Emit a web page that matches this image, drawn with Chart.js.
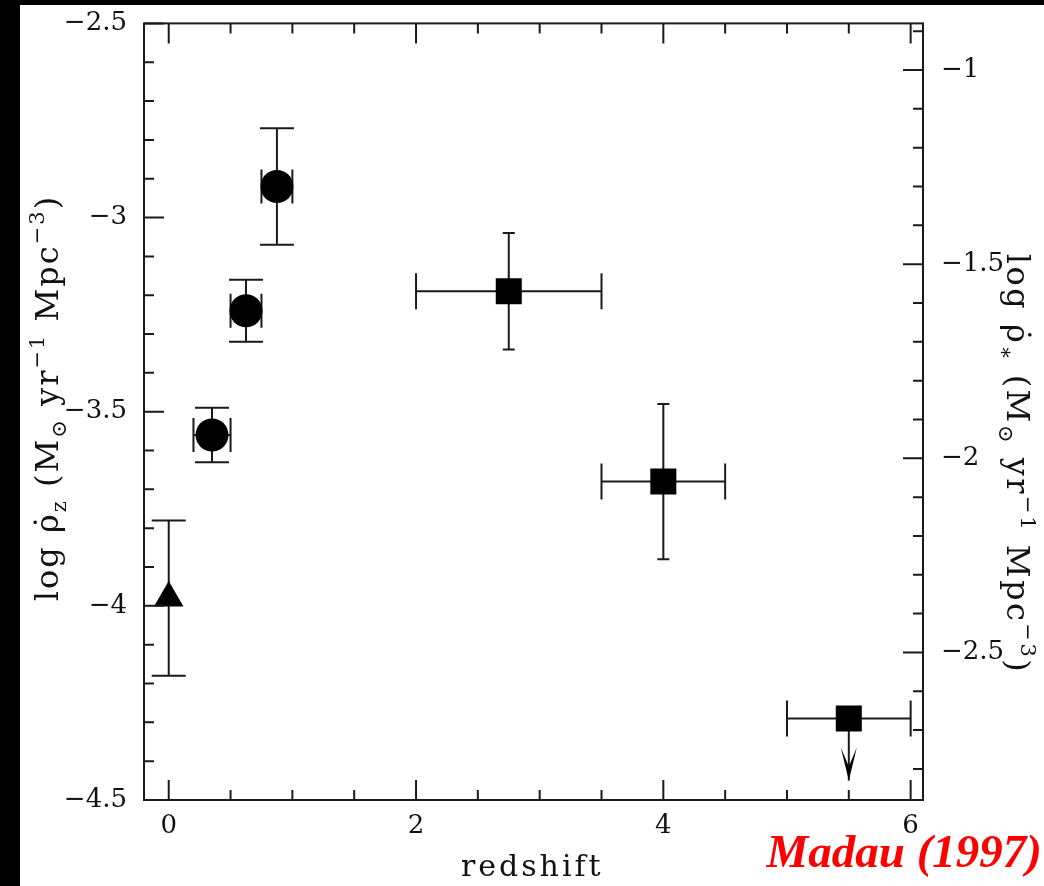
<!DOCTYPE html>
<html>
<head>
<meta charset="utf-8">
<script src="https://cdn.jsdelivr.net/npm/chart.js@4.4.1/dist/chart.umd.min.js"></script>
<style>
html, body { margin: 0; padding: 0; background: #000; width: 1044px; height: 886px; overflow: hidden; }
#wrap { position: absolute; left: 20px; top: 5px; width: 1024px; height: 881px; background: #fff; }
</style>
</head>
<body>
<div id="wrap"><canvas id="myChart"></canvas></div>
<script>
// cosmic star formation history, after Madau (1997)
var xTicks = [0, 2, 4, 6];
var leftTicks = [-4.5, -4, -3.5, -3, -2.5];
var rightTicks = [-2.5, -2, -1.5, -1];
var rightOffset = 1.62; // log rho* = log rho_z + 1.62

// local (triangle)
var localZ = [0];
var localRho = [-3.98];
var localErr = [0.2];

// CFRS (circles)
var cfrsZ = [0.35, 0.625, 0.875];
var cfrsRho = [-3.56, -3.24, -2.92];
var cfrsZErr = [0.15, 0.125, 0.125];
var cfrsErr = [0.07, 0.08, 0.15];

// HDF (squares), last one is an upper limit
var hdfZ = [2.75, 4.0, 5.5];
var hdfRho = [-3.19, -3.68, -4.29];
var hdfZErr = [0.75, 0.5, 0.5];
var hdfErr = [0.15, 0.2, 0];
var hdfLimit = [false, false, true];

var ink = '#1a1a1a';
var tickFont = { family: 'DejaVu Serif', size: 26 };

function pts(zs, rs, zerr, rerr, lim) {
  return zs.map(function (z, i) {
    return { x: z, y: rs[i], xe: zerr ? zerr[i] : 0, ye: rerr ? rerr[i] : 0, lim: lim ? lim[i] : false };
  });
}

function fmt(v) {
  return v < 0 ? '\u2212' + Math.abs(v) : String(v);
}

var errorBars = {
  id: 'errorBars',
  beforeDatasetsDraw: function (chart) {
    var ctx = chart.ctx;
    var xs = chart.scales.x, ys = chart.scales.y;
    ctx.save();
    ctx.strokeStyle = ink;
    ctx.fillStyle = '#000';
    ctx.lineWidth = 2;
    chart.data.datasets.forEach(function (ds) {
      ds.data.forEach(function (p) {
        var px = xs.getPixelForValue(p.x), py = ys.getPixelForValue(p.y);
        ctx.beginPath();
        if (p.xe) {
          var l = xs.getPixelForValue(p.x - p.xe), r = xs.getPixelForValue(p.x + p.xe);
          ctx.moveTo(l, py); ctx.lineTo(r, py);
          ctx.moveTo(l, py - ds.capX); ctx.lineTo(l, py + ds.capX);
          ctx.moveTo(r, py - ds.capX); ctx.lineTo(r, py + ds.capX);
        }
        if (p.ye) {
          var t = ys.getPixelForValue(p.y + p.ye), b = ys.getPixelForValue(p.y - p.ye);
          ctx.moveTo(px, t); ctx.lineTo(px, b);
          ctx.moveTo(px - ds.capY, t); ctx.lineTo(px + ds.capY, t);
          ctx.moveTo(px - ds.capY, b); ctx.lineTo(px + ds.capY, b);
        }
        ctx.stroke();
        if (p.lim) {
          var tip = ys.getPixelForValue(p.y - 0.16);
          ctx.beginPath();
          ctx.moveTo(px, py); ctx.lineTo(px, tip);
          ctx.stroke();
          ctx.beginPath();
          ctx.moveTo(px, tip);
          ctx.lineTo(px - 8, tip - 33);
          ctx.lineTo(px, tip - 14);
          ctx.lineTo(px + 8, tip - 33);
          ctx.closePath();
          ctx.fill();
        }
      });
    });
    ctx.restore();
  }
};

var frameTicks = {
  id: 'frameTicks',
  afterDatasetsDraw: function (chart) {
    var ctx = chart.ctx, a = chart.chartArea;
    var xs = chart.scales.x, ys = chart.scales.y, y2 = chart.scales.y2;
    ctx.save();
    ctx.strokeStyle = ink;
    ctx.lineWidth = 2;
    ctx.strokeRect(a.left, a.top, a.right - a.left, a.bottom - a.top);
    ctx.beginPath();
    function minors(scale, step) {
      var out = [];
      for (var v = Math.ceil(scale.min / step - 1e-6) * step; v <= scale.max + 1e-6; v += step) out.push(v);
      return out;
    }
    function isMajor(v, list) {
      return list.some(function (m) { return Math.abs(m - v) < 1e-6; });
    }
    minors(xs, 0.5).forEach(function (v) {
      var len = isMajor(v, xTicks) ? 20 : 10;
      var p = xs.getPixelForValue(v);
      ctx.moveTo(p, a.bottom); ctx.lineTo(p, a.bottom - len);
      ctx.moveTo(p, a.top); ctx.lineTo(p, a.top + len);
    });
    minors(ys, 0.1).forEach(function (v) {
      var len = isMajor(v, leftTicks) ? 20 : 10;
      var p = ys.getPixelForValue(v);
      ctx.moveTo(a.left, p); ctx.lineTo(a.left + len, p);
    });
    minors(y2, 0.1).forEach(function (v) {
      var len = isMajor(v, rightTicks) ? 20 : 10;
      var p = y2.getPixelForValue(v);
      ctx.moveTo(a.right, p); ctx.lineTo(a.right - len, p);
    });
    ctx.stroke();
    ctx.restore();
  }
};

function drawRich(ctx, parts, cx, cy, angle, size, spacing) {
  var fam = 'px "DejaVu Serif"';
  ctx.save();
  ctx.letterSpacing = spacing + 'px';
  var widths = parts.map(function (p) {
    ctx.font = (p.s ? Math.round(size * 0.66) : size) + fam;
    return ctx.measureText(p.t).width;
  });
  var total = widths.reduce(function (s, w) { return s + w; }, 0);
  ctx.translate(cx, cy);
  ctx.rotate(angle);
  ctx.fillStyle = '#111';
  ctx.textBaseline = 'alphabetic';
  var x = -total / 2, base = size * 0.36;
  parts.forEach(function (p, i) {
    ctx.font = (p.s ? Math.round(size * 0.66) : size) + fam;
    var dy = p.s === 'sub' ? size * 0.28 : (p.s === 'sup' ? -size * 0.42 : 0);
    ctx.fillText(p.t, x, base + dy);
    x += widths[i];
  });
  ctx.restore();
}

var leftTitle = [
  { t: 'log ' }, { t: '\u03c1\u0307' }, { t: 'z', s: 'sub' }, { t: ' (M' }, { t: '\u2299', s: 'sub' },
  { t: ' yr' }, { t: '\u22121', s: 'sup' }, { t: ' Mpc' }, { t: '\u22123', s: 'sup' }, { t: ')' }
];
var rightTitle = [
  { t: 'log ' }, { t: '\u03c1\u0307' }, { t: '\u2217', s: 'sub' }, { t: ' (M' }, { t: '\u2299', s: 'sub' },
  { t: ' yr' }, { t: '\u22121', s: 'sup' }, { t: ' Mpc' }, { t: '\u22123', s: 'sup' }, { t: ')' }
];

var titles = {
  id: 'titles',
  afterDraw: function (chart) {
    var ctx = chart.ctx;
    drawRich(ctx, leftTitle, 26, 393, -Math.PI / 2, 32, 2);
    drawRich(ctx, rightTitle, 999, 459, Math.PI / 2, 32, 2.5);
    ctx.save();
    ctx.fillStyle = '#111';
    ctx.font = '30px "DejaVu Serif"';
    ctx.textAlign = 'center';
    ctx.textBaseline = 'alphabetic';
    ctx.letterSpacing = '3px';
    ctx.fillText('redshift', chart.scales.x.getPixelForValue(2.94), 871);
    ctx.letterSpacing = '0px';
    ctx.fillStyle = '#ff0000';
    ctx.font = 'italic bold 47px "Liberation Serif"';
    ctx.textAlign = 'right';
    ctx.fillText('Madau (1997)', 1022, 862);
    ctx.restore();
  }
};

function noPad(s) {
  s.paddingTop = 0; s.paddingBottom = 0; s.paddingLeft = 0; s.paddingRight = 0;
}

var ctx = document.getElementById('myChart').getContext('2d');
var myChart = new Chart(ctx, {
  type: 'scatter',
  data: {
    datasets: [
      { label: 'local', data: pts(localZ, localRho, null, localErr), pointStyle: 'triangle', pointRadius: 17,
        backgroundColor: '#000', borderColor: '#000', borderWidth: 0, capX: 0, capY: 17 },
      { label: 'CFRS', data: pts(cfrsZ, cfrsRho, cfrsZErr, cfrsErr), pointStyle: 'circle', pointRadius: 16.5,
        backgroundColor: '#000', borderColor: '#000', borderWidth: 0, capX: 17, capY: 17 },
      { label: 'HDF', data: pts(hdfZ, hdfRho, hdfZErr, hdfErr, hdfLimit), pointStyle: 'rect', pointRadius: 18.4,
        backgroundColor: '#000', borderColor: '#000', borderWidth: 0, capX: 18, capY: 6 }
    ]
  },
  options: {
    responsive: true,
    maintainAspectRatio: false,
    animation: false,
    layout: { padding: { top: 17, left: 0, right: 0, bottom: 0 } },
    plugins: { legend: { display: false }, tooltip: { enabled: false } },
    scales: {
      x: {
        type: 'linear', position: 'bottom', min: -0.2, max: 6.1,
        grid: { display: false, drawTicks: false }, border: { display: false },
        afterBuildTicks: function (s) { s.ticks = xTicks.map(function (v) { return { value: v }; }); },
        afterFit: function (s) { s.height = 86; noPad(s); },
        ticks: { color: '#111', font: tickFont, padding: 11, maxRotation: 0, callback: fmt }
      },
      y: {
        type: 'linear', position: 'left', min: -4.5, max: -2.5,
        grid: { display: false, drawTicks: false }, border: { display: false },
        afterBuildTicks: function (s) { s.ticks = leftTicks.map(function (v) { return { value: v }; }); },
        afterFit: function (s) { s.width = 124; noPad(s); },
        ticks: { color: '#111', font: tickFont, padding: 17, callback: fmt }
      },
      y2: {
        type: 'linear', position: 'right', min: -4.5 + rightOffset, max: -2.5 + rightOffset,
        grid: { display: false, drawTicks: false }, border: { display: false },
        afterBuildTicks: function (s) { s.ticks = rightTicks.map(function (v) { return { value: v }; }); },
        afterFit: function (s) { s.width = 121; noPad(s); },
        ticks: { color: '#111', font: tickFont, padding: 18, callback: fmt }
      }
    }
  },
  plugins: [errorBars, frameTicks, titles]
});
</script>
</body>
</html>
